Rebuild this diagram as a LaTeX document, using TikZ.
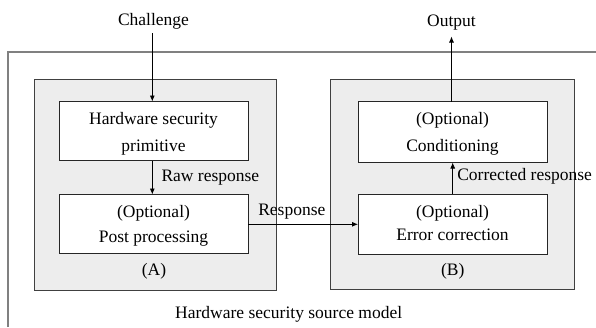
\documentclass[tikz,border=0pt]{standalone}
\usepackage{fontspec}
\setmainfont{Liberation Serif}
\usetikzlibrary{arrows.meta}
\begin{document}
\begin{tikzpicture}[x=1pt,y=-1pt,
  every node/.style={inner sep=0pt,outer sep=0pt},
  txt/.style={font=\fontsize{17.5}{21}\selectfont,anchor=base},
  txtw/.style={font=\fontsize{17.5}{21}\selectfont,anchor=base west},
  grp/.style={draw=black!75,line width=0.9pt,fill=black!7},
  blk/.style={draw=black!85,line width=0.9pt,fill=white},
  arr/.style={line width=0.8pt,-{Latex[length=6pt,width=5pt]}}]
\useasboundingbox (0,0) rectangle (596,327);
% outer model frame (top and left edges)
\draw[draw=black!50,line width=1.4pt] (8,327) -- (8,52) -- (597,52);
% group boxes
\node[grp,minimum width=242pt,minimum height=211pt] (A) at (155,184.5) {};
\node[grp,minimum width=244pt,minimum height=210pt] (B) at (452,184) {};
% blocks
\node[blk,minimum width=189pt,minimum height=59pt] (hsp) at (153.5,131) {};
\node[blk,minimum width=189pt,minimum height=59pt] (post) at (153.5,224) {};
\node[blk,minimum width=189pt,minimum height=61pt] (cond) at (452.5,132) {};
\node[blk,minimum width=189pt,minimum height=60pt] (ecc) at (452.5,224) {};
% block texts
\node[txt] (t1) at (153.5,124.3) {Hardware security};
\node[txt] (t2) at (153.5,151) {primitive};
\node[txt] (t3) at (153.5,217) {(Optional)};
\node[txt] (t4) at (153.5,242.5) {Post processing};
\node[txt] (t5) at (452.5,124.3) {(Optional)};
\node[txt] (t6) at (452.5,151.5) {Conditioning};
\node[txt] (t7) at (452.5,217.3) {(Optional)};
\node[txt] (t8) at (452.5,240.7) {Error correction};
\node[txt] (la) at (154,275) {(A)};
\node[txt] (lb) at (452.7,275) {(B)};
% external labels
\node[txt] (chal) at (153.5,25) {Challenge};
\node[txt] (out) at (451.5,26) {Output};
\node[txt] (model) at (288.7,318) {Hardware security source model};
% connectors
\coordinate (chs) at (152.3,33);
\coordinate (ote) at (451.5,36.5);
\draw[arr] (chs) -- (chs |- hsp.north);
\draw[arr] (hsp.south -| 152.3,0) -- (post.north -| 152.3,0);
\node[txtw] (raw) at (161.5,181.5) {Raw response};
\draw[arr] (post.east |- 0,224.3) -- (ecc.west |- 0,224.3);
\node[txtw] (resp) at (258.3,215) {Response};
\draw[arr] (ecc.north -| 452.7,0) -- (cond.south -| 452.7,0);
\node[txtw] (corr) at (457.3,180) {Corrected response};
\draw[arr] (cond.north -| ote) -- (ote);
\end{tikzpicture}
\end{document}
